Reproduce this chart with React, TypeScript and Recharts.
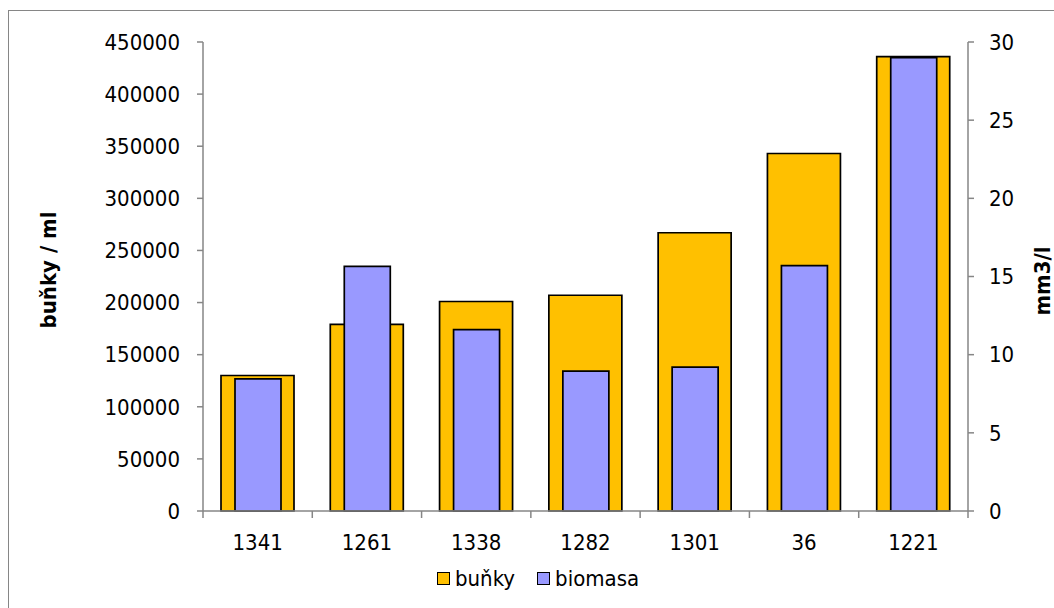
import React from 'react';
import { ComposedChart, Bar, XAxis, YAxis, Legend } from 'recharts';

const categories = ['1341', '1261', '1338', '1282', '1301', '36', '1221'];
const cellsPerMl = [130000, 179000, 201000, 207000, 267000, 343000, 436000];
const biomass = [8.45, 15.65, 11.6, 8.95, 9.2, 15.7, 29.0];
const leftTicks = [0, 50000, 100000, 150000, 200000, 250000, 300000, 350000, 400000, 450000];
const rightTicks = [0, 5, 10, 15, 20, 25, 30];
const seriesNames = ['buňky', 'biomasa'];

const data = categories.map((c, i) => ({ station: c, bunky: cellsPerMl[i], biomasa: biomass[i] }));

const W = 1054;
const H = 608;
const MARGIN = { top: 42, right: 6, left: 48, bottom: 67 };
const LEFT_AXIS_W = 155;
const RIGHT_AXIS_W = 80;
const X_AXIS_H = 30;
const PLOT_BOTTOM = H - MARGIN.bottom - X_AXIS_H;
const PLOT_W = W - MARGIN.left - MARGIN.right - LEFT_AXIS_W - RIGHT_AXIS_W;
const BAND = PLOT_W / categories.length;
const AXIS = '#868686';
const FONT = "'DejaVu Sans Condensed', 'DejaVu Sans', sans-serif";
const FS = 22;

const XTick = (props: any) => {
  const { x, payload, index } = props;
  const half = BAND / 2;
  return (
    <g>
      <line x1={x - half} x2={x - half} y1={PLOT_BOTTOM} y2={PLOT_BOTTOM + 7} stroke={AXIS} strokeWidth={1.5} />
      {index === categories.length - 1 && (
        <line x1={x + half} x2={x + half} y1={PLOT_BOTTOM} y2={PLOT_BOTTOM + 7} stroke={AXIS} strokeWidth={1.5} />
      )}
      <text x={x} y={PLOT_BOTTOM + 31} textAnchor="middle" dominantBaseline="central" fill="#000" fontSize={FS} fontFamily={FONT}>
        {payload.value}
      </text>
    </g>
  );
};

const LeftTitle = () => (
  <text x={48} y={270} transform="rotate(-90, 48, 270)" textAnchor="middle" dominantBaseline="central" fontWeight="bold" fontSize={FS} fontFamily={FONT} fill="#000">
    buňky / ml
  </text>
);

const RightTitle = () => (
  <text x={1042} y={281} transform="rotate(-90, 1042, 281)" textAnchor="middle" dominantBaseline="central" fontWeight="bold" fontSize={FS} fontFamily={FONT} fill="#000">
    mm3/l
  </text>
);

const renderLegend = (props: any) => {
  const payload = [...(props.payload || [])].sort(
    (a: any, b: any) => seriesNames.indexOf(a.value) - seriesNames.indexOf(b.value)
  );
  return (
    <div style={{ display: 'flex', alignItems: 'center', fontFamily: FONT, fontSize: FS, color: '#000' }}>
      {payload.map((entry: any, i: number) => (
        <div key={i} style={{ display: 'flex', alignItems: 'center', marginRight: 22 }}>
          <span style={{ display: 'inline-block', width: 11, height: 11, background: entry.color, border: '1.5px solid #000', marginRight: 5 }} />
          <span>{entry.value}</span>
        </div>
      ))}
    </div>
  );
};

export default function App() {
  return (
    <div style={{ position: 'absolute', left: 0, top: 0, width: W, height: H, overflow: 'hidden', background: '#fff' }}>
      <div style={{ position: 'absolute', left: 8, top: 10, width: 1100, height: 700, border: `1px solid ${AXIS}` }} />
      <div style={{ position: 'absolute', left: 0, top: 0 }}>
        <ComposedChart width={W} height={H} data={data} margin={MARGIN}>
          <XAxis
            xAxisId="a"
            dataKey="station"
            height={X_AXIS_H}
            stroke={AXIS}
            strokeWidth={1.5}
            tickLine={false}
            tick={<XTick />}
            interval={0}
          />
          <XAxis xAxisId="b" dataKey="station" hide />
          <YAxis
            yAxisId="left"
            orientation="left"
            width={LEFT_AXIS_W}
            domain={[0, 450000]}
            ticks={leftTicks}
            interval={0}
            stroke={AXIS}
            strokeWidth={1.5}
            tickSize={6}
            tickMargin={17}
            tick={{ fill: '#000', fontSize: FS, fontFamily: FONT }}
            label={LeftTitle}
          />
          <YAxis
            yAxisId="right"
            orientation="right"
            width={RIGHT_AXIS_W}
            domain={[0, 30]}
            ticks={rightTicks}
            interval={0}
            stroke={AXIS}
            strokeWidth={1.5}
            tickSize={6}
            tickMargin={15}
            tick={{ fill: '#000', fontSize: FS, fontFamily: FONT, textAnchor: 'start' }}
            label={RightTitle}
          />
          <Legend
            verticalAlign="middle"
            align="center"
            layout="horizontal"
            content={renderLegend}
            wrapperStyle={{ top: 566, left: 437, width: 320 }}
          />
          <Bar
            name={seriesNames[0]}
            dataKey="bunky"
            xAxisId="a"
            yAxisId="left"
            fill="#FFC000"
            stroke="#000"
            strokeWidth={1.7}
            barSize={73}
            isAnimationActive={false}
          />
          <Bar
            name={seriesNames[1]}
            dataKey="biomasa"
            xAxisId="b"
            yAxisId="right"
            fill="#9999FF"
            stroke="#000"
            strokeWidth={1.7}
            barSize={46}
            isAnimationActive={false}
          />
        </ComposedChart>
      </div>
    </div>
  );
}
